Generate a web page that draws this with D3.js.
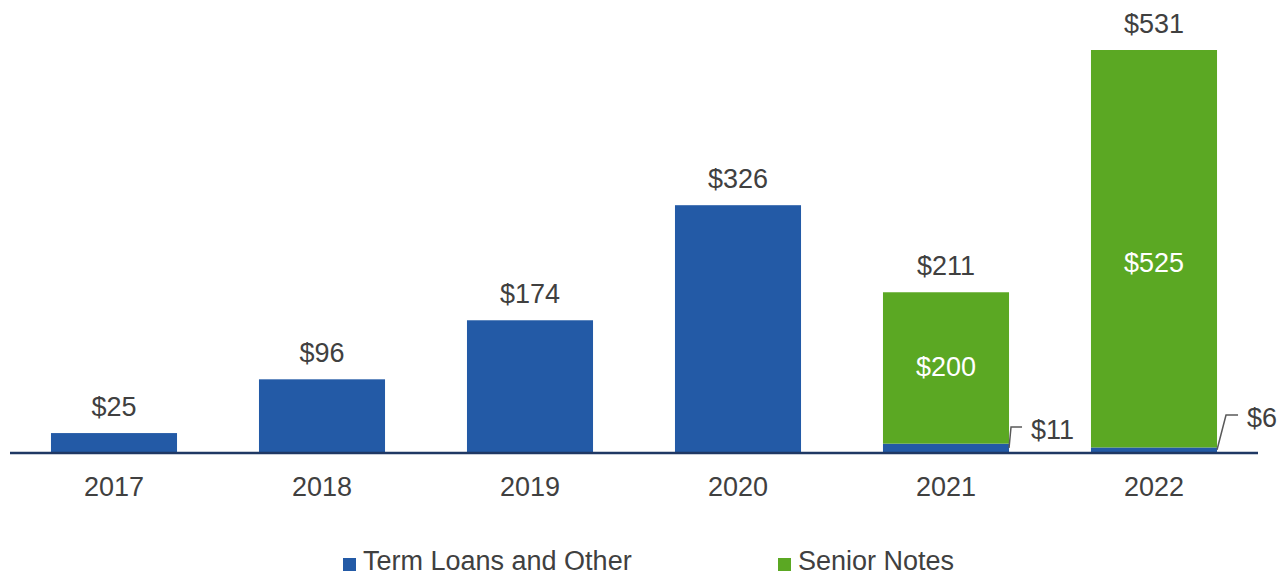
<!DOCTYPE html>
<html>
<head>
<meta charset="utf-8">
<script src="https://cdn.jsdelivr.net/npm/d3@7"></script>
<style>
  body { margin: 0; background: #fff; }
  svg text { font-family: "Liberation Sans", Arial, sans-serif; }
</style>
</head>
<body>
<svg width="1278" height="576"></svg>
<script>
// datos
const years = ["2017", "2018", "2019", "2020", "2021", "2022"];
const termLoans = [25, 96, 174, 326, 11, 6];
const seniorNotes = [0, 0, 0, 0, 200, 525];
const seriesNames = ["Term Loans and Other", "Senior Notes"];
const colors = ["#235AA6", "#5BA823"];

const svg = d3.select("svg");
const textColor = "#404040";
const fs = 27;

const rows = years.map((y, i) => ({ year: y, term: termLoans[i], senior: seniorNotes[i], total: termLoans[i] + seniorNotes[i] }));

const x = d3.scaleBand().domain(years).range([10, 1258]).paddingInner(0.394).paddingOuter(0.197);
const y = d3.scaleLinear().domain([0, 531]).range([452, 50]);

const stack = d3.stack().keys(["term", "senior"])(rows);

// barras
svg.append("g")
  .selectAll("g")
  .data(stack)
  .enter().append("g")
  .attr("fill", (d, i) => colors[i])
  .selectAll("rect")
  .data(d => d.filter(s => s[1] > s[0]))
  .enter().append("rect")
  .attr("x", d => x(d.data.year))
  .attr("width", x.bandwidth())
  .attr("y", d => y(d[1]))
  .attr("height", d => y(d[0]) - y(d[1]));

// linea base
svg.append("line")
  .attr("x1", x.range()[0]).attr("x2", x.range()[1])
  .attr("y1", y(0) + 1).attr("y2", y(0) + 1)
  .attr("stroke", "#1F3864").attr("stroke-width", 2.5);

// etiquetas de años
svg.append("g")
  .selectAll("text")
  .data(years)
  .enter().append("text")
  .attr("x", d => x(d) + x.bandwidth() / 2)
  .attr("y", 496)
  .attr("text-anchor", "middle")
  .attr("font-size", fs)
  .attr("fill", textColor)
  .text(d => d);

// totales arriba
svg.append("g")
  .selectAll("text")
  .data(rows)
  .enter().append("text")
  .attr("x", d => x(d.year) + x.bandwidth() / 2)
  .attr("y", d => y(d.total) - 17)
  .attr("text-anchor", "middle")
  .attr("font-size", fs)
  .attr("fill", textColor)
  .text(d => "$" + d.total);

// valores dentro de senior notes
const innerShift = [-2, 13];
svg.append("g")
  .selectAll("text")
  .data(rows.filter(d => d.senior > 0))
  .enter().append("text")
  .attr("x", d => x(d.year) + x.bandwidth() / 2)
  .attr("y", (d, i) => (y(d.term) + y(d.total)) / 2 + 10 + innerShift[i])
  .attr("text-anchor", "middle")
  .attr("font-size", fs)
  .attr("fill", "#fff")
  .text(d => "$" + d.senior);

// callouts para los term loans pequeños
const small = rows.filter(d => d.senior > 0);
const callout = svg.append("g").selectAll("g").data(small).enter().append("g");
const rise = [25, 37];
callout.append("path")
  .attr("fill", "none")
  .attr("stroke", "#595959")
  .attr("stroke-width", 1.5)
  .attr("d", (d, i) => {
    const x0 = x(d.year) + x.bandwidth();
    const y0 = y(d.term / 2);
    const y1 = y(0) - rise[i];
    return `M${x0},${y0}L${x0 + 2 + i * 7},${y1}L${x0 + 13 + i * 8},${y1}`;
  });
callout.append("text")
  .attr("x", (d, i) => x(d.year) + x.bandwidth() + 22 + i * 8)
  .attr("y", (d, i) => y(0) - rise[i] + 12)
  .attr("font-size", fs)
  .attr("fill", textColor)
  .text(d => "$" + d.term);

// leyenda
const legendX = [343, 778];
const legend = svg.append("g").selectAll("g").data(seriesNames).enter().append("g")
  .attr("transform", (d, i) => `translate(${legendX[i]},564)`);
legend.append("rect")
  .attr("x", 0).attr("y", -6).attr("width", 13).attr("height", 13)
  .attr("fill", (d, i) => colors[i]);
legend.append("text")
  .attr("x", 20).attr("y", 6)
  .attr("font-size", fs)
  .attr("fill", textColor)
  .text(d => d);
</script>
</body>
</html>
